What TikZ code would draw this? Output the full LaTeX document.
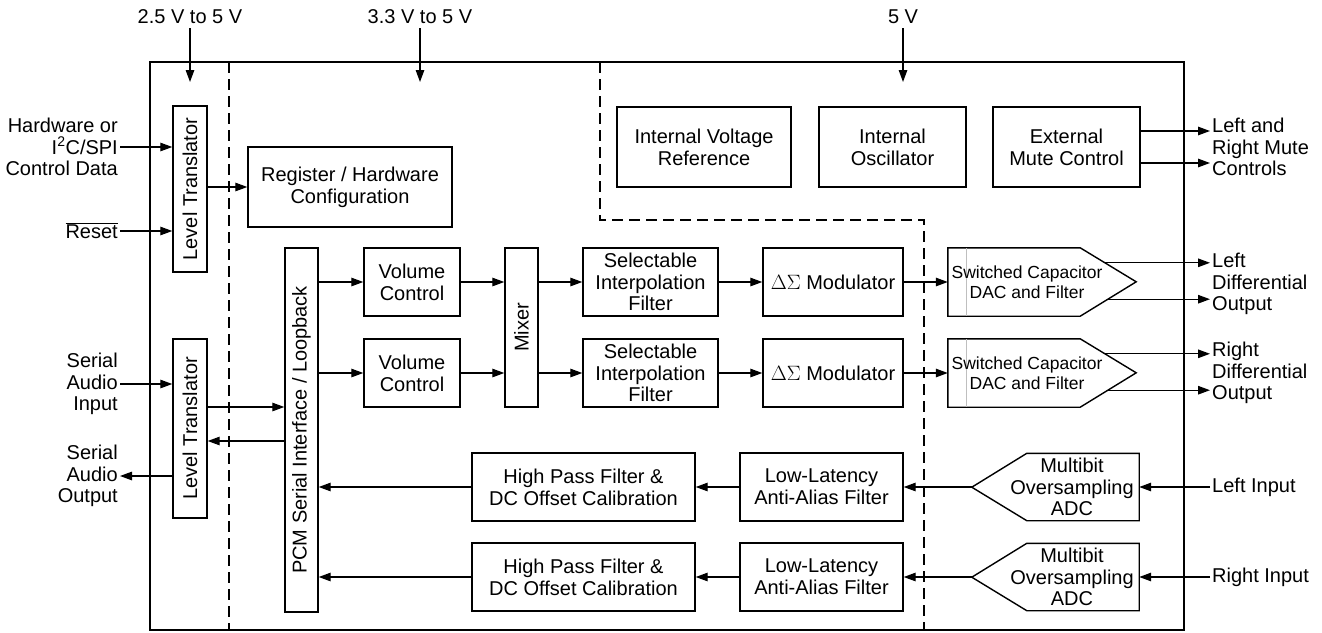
\documentclass[tikz,border=0pt]{standalone}
\usepackage{fontspec}
\setmainfont{Liberation Sans}
\usetikzlibrary{arrows.meta, calc, math}

\begin{document}
\begin{tikzpicture}[x=1pt, y=-1pt,
  font=\fontsize{20}{21.7}\selectfont,
  blk/.style={draw, line width=1.4pt, inner sep=2pt, align=center},
  ghost/.style={inner sep=0pt},
  lbl/.style={inner sep=2pt, align=center},
  small/.style={font=\fontsize{17.5}{20.5}\selectfont},
  sig/.style={line width=1.3pt, -{Triangle[length=12pt,width=8.5pt]}},
  zone/.style={line width=2.4pt, dash pattern=on 11pt off 6pt}]
\tikzmath{
\ya=282; \yb=373; \yc=487; \yd=577;
\bh=68;
}
\useasboundingbox (0,0) rectangle (1322,632);

\draw[line width=2.6pt] (150,62) rectangle (1184,630);
\draw[zone] (229,62) -- (229,630);
\draw[zone] (600,62) -- (600,220) -- (924,220) -- (924,630);

% supplies
\node[lbl] (vio) at (190,17) {2.5 V to 5 V};
\node[lbl] (vdig) at (420,17) {3.3 V to 5 V};
\node[lbl] (vana) at (903,17) {5 V};
\coordinate (vioe) at (190,82);
\coordinate (vdige) at (420,82);
\coordinate (vanae) at (903,82);
\draw[sig, shorten <=2pt] (vio) -- (vioe);
\draw[sig, shorten <=2pt] (vdig) -- (vdige);
\draw[sig, shorten <=2pt] (vana) -- (vanae);

% interface side
\node[blk, minimum width=34, minimum height=166] (lt1) at (190,189) {\rotatebox{90}{Level Translator}};
\node[blk, minimum width=34, minimum height=179] (lt2) at (190,428.5) {\rotatebox{90}{Level Translator}};
\node[blk, minimum width=204, minimum height=80] (reg) at (350,187) {Register / Hardware\\Configuration};
\node[blk, minimum width=33, minimum height=364] (pcm) at (301.5,430) {\rotatebox{90}{PCM Serial Interface / Loopback}};

\node[lbl, anchor=east, align=right] (hw) at (120,147) {Hardware or\\I\textsuperscript{2}C/SPI\\Control Data};
\node[lbl, anchor=east] (rst) at (120,231) {$\overline{\mbox{Reset}}$};
\node[lbl, anchor=east, align=right] (sai) at (120,384) {Serial\\Audio\\Input};
\node[lbl, anchor=east, align=right] (sao) at (120,476) {Serial\\Audio\\Output};

\draw[sig] (hw) -- (hw -| lt1.west);
\draw[sig] (rst) -- (rst -| lt1.west);
\draw[sig] (lt1.east |- reg) -- (reg.west);
\draw[sig] (sai) -- (sai -| lt2.west);
\draw[sig] (lt2.west |- sao) -- (sao);
\draw[sig] (lt2.east |- 0,407) -- (pcm.west |- 0,407);
\draw[sig] (pcm.west |- 0,441) -- (lt2.east |- 0,441);

% playback path
\node[blk, minimum width=96, minimum height=\bh] (vc1) at (412,\ya) {Volume\\Control};
\node[blk, minimum width=96, minimum height=\bh] (vc2) at (412,\yb) {Volume\\Control};
\node[blk, minimum width=33, minimum height=159] (mix) at (521.5,327.5) {\rotatebox{90}{Mixer}};
\node[blk, minimum width=135, minimum height=\bh] (sif1) at (650.5,\ya) {Selectable\\Interpolation\\Filter};
\node[blk, minimum width=135, minimum height=\bh] (sif2) at (650.5,\yb) {Selectable\\Interpolation\\Filter};
\node[blk, minimum width=140, minimum height=\bh] (mod1) at (833,\ya) {$\Delta\Sigma$ Modulator};
\node[blk, minimum width=140, minimum height=\bh] (mod2) at (833,\yb) {$\Delta\Sigma$ Modulator};

\node[ghost, minimum width=132, minimum height=\bh] (dac1) at (1014,\ya) {};
\node[ghost, minimum width=132, minimum height=\bh] (dac2) at (1014,\yb) {};
\draw[line width=1.4pt] (dac1.north west) -- (dac1.north east) -- ++(56,34) -- (dac1.south east) -- (dac1.south west) -- cycle;
\draw[line width=1.4pt] (dac2.north west) -- (dac2.north east) -- ++(56,34) -- (dac2.south east) -- (dac2.south west) -- cycle;
\draw[gray!50, line width=0.8pt] ([xshift=19pt]dac1.north west) -- ([xshift=19pt]dac1.south west);
\draw[gray!50, line width=0.8pt] ([xshift=19pt]dac2.north west) -- ([xshift=19pt]dac2.south west);
\node[lbl, small] (dac1t) at (1027,\ya) {Switched Capacitor\\DAC and Filter};
\node[lbl, small] (dac2t) at (1027,\yb) {Switched Capacitor\\DAC and Filter};

\draw[sig] (pcm.east |- vc1) -- (vc1.west);
\draw[sig] (pcm.east |- vc2) -- (vc2.west);
\draw[sig] (vc1) -- (vc1 -| mix.west);
\draw[sig] (vc2) -- (vc2 -| mix.west);
\draw[sig] (mix.east |- sif1) -- (sif1.west);
\draw[sig] (mix.east |- sif2) -- (sif2.west);
\draw[sig] (sif1) -- (mod1);
\draw[sig] (sif2) -- (mod2);
\draw[sig] (mod1) -- (dac1);
\draw[sig] (mod2) -- (dac2);

\node[lbl, anchor=west, align=left] (ldo) at (1210,284) {Left\\Differential\\Output};
\node[lbl, anchor=west, align=left] (rdo) at (1210,373) {Right\\Differential\\Output};
\coordinate (d1p) at ($(dac1.north east)+(25,15)$);
\coordinate (d1n) at ($(dac1.south east)+(28,-17)$);
\coordinate (d2p) at ($(dac2.north east)+(25,15)$);
\coordinate (d2n) at ($(dac2.south east)+(28,-17)$);
\draw[sig] (d1p) -- (d1p -| ldo.west);
\draw[sig] (d1n) -- (d1n -| ldo.west);
\draw[sig] (d2p) -- (d2p -| rdo.west);
\draw[sig] (d2n) -- (d2n -| rdo.west);

% analog support
\node[blk, minimum width=174, minimum height=80] (ivr) at (704,147) {Internal Voltage\\Reference};
\node[blk, minimum width=147, minimum height=80] (osc) at (892.5,147) {Internal\\Oscillator};
\node[blk, minimum width=147, minimum height=80] (emc) at (1066.5,147) {External\\Mute Control};
\node[lbl, anchor=west, align=left] (mute) at (1210,147) {Left and\\Right Mute\\Controls};
\draw[sig] (emc.east |- 0,131) -- (mute.west |- 0,131);
\draw[sig] (emc.east |- 0,163) -- (mute.west |- 0,163);

% record path
\node[blk, minimum width=223, minimum height=\bh] (hpf1) at (583.5,\yc) {High Pass Filter \&\\DC Offset Calibration};
\node[blk, minimum width=223, minimum height=\bh] (hpf2) at (583.5,\yd) {High Pass Filter \&\\DC Offset Calibration};
\node[blk, minimum width=163, minimum height=\bh] (llaa1) at (821.5,\yc) {Low-Latency\\Anti-Alias Filter};
\node[blk, minimum width=163, minimum height=\bh] (llaa2) at (821.5,\yd) {Low-Latency\\Anti-Alias Filter};

\node[ghost, minimum width=112, minimum height=67] (adc1) at (1083,\yc) {};
\node[ghost, minimum width=112, minimum height=67] (adc2) at (1083,\yd) {};
\draw[line width=1.4pt] (adc1.north west) -- (adc1.north east) -- (adc1.south east) -- (adc1.south west) -- ++(-55,-33.5) -- cycle;
\draw[line width=1.4pt] (adc2.north west) -- (adc2.north east) -- (adc2.south east) -- (adc2.south west) -- ++(-55,-33.5) -- cycle;
\coordinate (adc1o) at ($(adc1.west)+(-55,0)$);
\coordinate (adc2o) at ($(adc2.west)+(-55,0)$);
\node[lbl] (adc1t) at (1072,\yc) {Multibit\\Oversampling\\ADC};
\node[lbl] (adc2t) at (1072,\yd) {Multibit\\Oversampling\\ADC};

\node[lbl, anchor=west] (lin) at (1210,\yc) {Left Input};
\node[lbl, anchor=west] (rin) at (1210,\yd) {Right Input};
\draw[sig] (lin) -- (adc1.east);
\draw[sig] (rin) -- (adc2.east);
\draw[sig] (adc1o) -- (llaa1.east);
\draw[sig] (adc2o) -- (llaa2.east);
\draw[sig] (llaa1) -- (hpf1);
\draw[sig] (llaa2) -- (hpf2);
\draw[sig] (hpf1.west) -- (hpf1.west -| pcm.east);
\draw[sig] (hpf2.west) -- (hpf2.west -| pcm.east);
\end{tikzpicture}
\end{document}
